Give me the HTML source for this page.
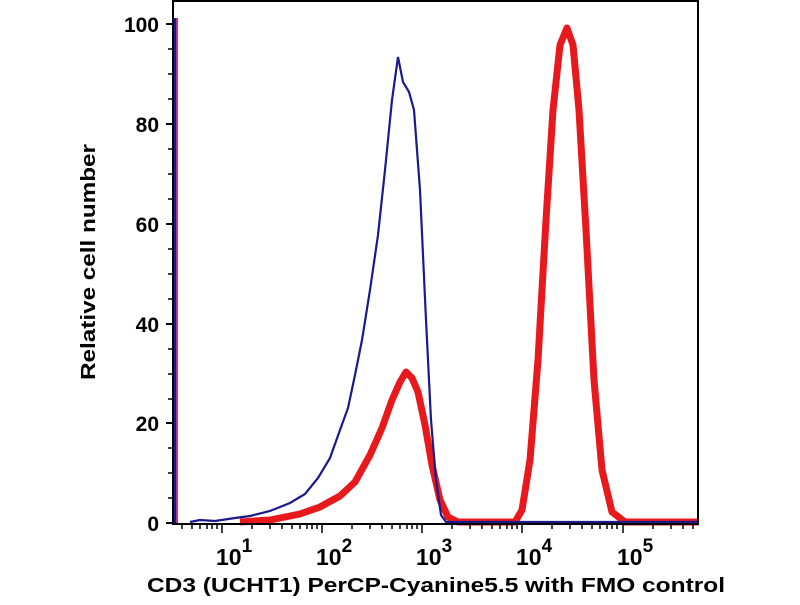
<!DOCTYPE html>
<html><head><style>body{margin:0;background:#fff}</style></head><body>
<svg width="800" height="600" xmlns="http://www.w3.org/2000/svg" font-family="Liberation Sans, sans-serif" font-weight="bold">
<rect width="800" height="600" fill="#fff"/>
<path d="M240,522 L270,520 L300,514 L320,507 L340,496 L355,482 L370,455 L382,428 L392,400 L400,382 L406,372 L412,378 L418,392 L425,425 L432,465 L440,500 L448,517 L458,522 L515,522 L522,510 L530,460 L538,360 L546,220 L553,110 L560,45 L567,28 L573,45 L579,110 L586,230 L594,380 L602,470 L612,512 L625,522 L698,522" fill="none" stroke="#e8191d" stroke-width="7" stroke-linejoin="round"/>
<line x1="176" y1="18" x2="176" y2="523" stroke="#d0308a" stroke-width="4"/>
<path d="M175,18 L175,523 M190,522 L200,520 L215,521 L235,518 L250,516 L270,511 L290,503 L305,494 L318,478 L330,458 L340,430 L348,408 L355,375 L362,340 L370,290 L378,235 L385,170 L392,100 L398,57 L403,82 L409,92 L414,110 L420,190 L426,320 L431,420 L436,480 L441,515 L446,522 L698,522" fill="none" stroke="#1a1a8c" stroke-width="2.2"/>
<path d="M173,1 H698 M173,0 V524 H698 V0" fill="none" stroke="#000" stroke-width="2"/>
<g stroke="#000" stroke-width="2">
<line x1="166" y1="24" x2="173" y2="24"/><line x1="166" y1="124" x2="173" y2="124"/><line x1="166" y1="224" x2="173" y2="224"/><line x1="166" y1="324" x2="173" y2="324"/><line x1="166" y1="423" x2="173" y2="423"/><line x1="166" y1="523" x2="173" y2="523"/>
</g>
<g stroke="#000" stroke-width="1.5">
<line x1="168" y1="49" x2="173" y2="49"/><line x1="168" y1="74" x2="173" y2="74"/><line x1="168" y1="99" x2="173" y2="99"/>
<line x1="168" y1="149" x2="173" y2="149"/><line x1="168" y1="174" x2="173" y2="174"/><line x1="168" y1="199" x2="173" y2="199"/>
<line x1="168" y1="249" x2="173" y2="249"/><line x1="168" y1="274" x2="173" y2="274"/><line x1="168" y1="299" x2="173" y2="299"/>
<line x1="168" y1="349" x2="173" y2="349"/><line x1="168" y1="374" x2="173" y2="374"/><line x1="168" y1="399" x2="173" y2="399"/>
<line x1="168" y1="448" x2="173" y2="448"/><line x1="168" y1="473" x2="173" y2="473"/><line x1="168" y1="498" x2="173" y2="498"/>
</g>
<g stroke="#000" stroke-width="1.5">
<path d="M182,524v5M192,524v5M200,524v5M207,524v5M212,524v5M217,524v5M222,524v9
M252,524v5M270,524v5M282,524v5M292,524v5M300,524v5M307,524v5M312,524v5M317,524v5M322,524v9
M352,524v5M370,524v5M382,524v5M392,524v5M400,524v5M407,524v5M412,524v5M417,524v5M422,524v9
M452,524v5M470,524v5M482,524v5M492,524v5M500,524v5M507,524v5M512,524v5M517,524v5M522,524v9
M552,524v5M570,524v5M582,524v5M592,524v5M600,524v5M607,524v5M612,524v5M617,524v5M623,524v9
M653,524v5M671,524v5M683,524v5M693,524v5"/>
</g>
<g font-size="21" text-anchor="end" fill="#000">
<text x="159" y="32">100</text><text x="159" y="132">80</text><text x="159" y="232">60</text><text x="159" y="332">40</text><text x="159" y="431">20</text><text x="159" y="531">0</text>
</g>
<g font-size="23" fill="#000">
<text x="216" y="565">10<tspan font-size="19" dy="-13">1</tspan></text>
<text x="316" y="565">10<tspan font-size="19" dy="-13">2</tspan></text>
<text x="416" y="565">10<tspan font-size="19" dy="-13">3</tspan></text>
<text x="516" y="565">10<tspan font-size="19" dy="-13">4</tspan></text>
<text x="617" y="565">10<tspan font-size="19" dy="-13">5</tspan></text>
</g>
<text x="147" y="592" font-size="20" textLength="578" lengthAdjust="spacingAndGlyphs">CD3 (UCHT1) PerCP-Cyanine5.5 with FMO control</text>
<text transform="translate(95,380) rotate(-90)" font-size="20" textLength="236" lengthAdjust="spacingAndGlyphs">Relative cell number</text>
</svg>
</body></html>
